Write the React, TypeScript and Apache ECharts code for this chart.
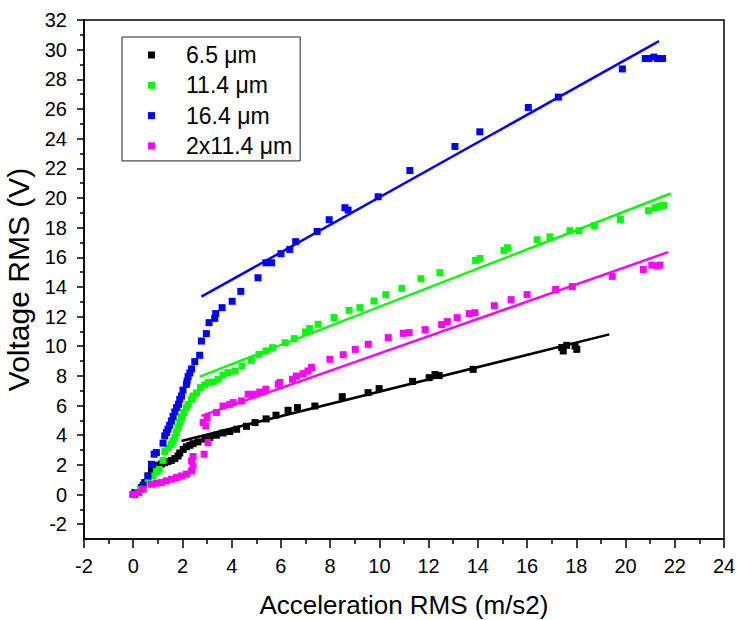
import React, { useEffect, useRef } from "react";
import * as echarts from "echarts";

const seriesNames = ["6.5 μm", "11.4 μm", "16.4 μm", "2x11.4 μm"];
const seriesColors = ["#000000", "#00ff00", "#0000ff", "#ff00ff"];

const black65: number[][] = [
  [0, 0], [0.06, 0.02], [0.2, 0.13], [0.33, 0.47], [0.47, 0.81], [0.6, 1.25], [0.74, 1.6], [0.87, 1.82],
  [1.01, 1.98], [1.15, 2.06], [1.28, 2.15], [1.41, 2.22], [1.55, 2.3], [1.69, 2.42], [1.82, 2.6], [1.89, 2.8],
  [2.03, 3.04], [2.16, 3.22], [2.3, 3.32], [2.43, 3.43], [2.63, 3.55], [2.91, 3.73], [3.11, 3.84], [3.38, 4.0],
  [3.65, 4.15], [3.92, 4.25], [4.2, 4.4], [4.6, 4.6], [4.95, 4.85], [5.4, 5.1], [5.8, 5.35], [6.29, 5.68],
  [6.67, 5.86], [7.38, 5.97], [8.49, 6.6], [9.54, 6.87], [9.99, 7.14], [11.35, 7.63], [12.02, 7.88],
  [12.26, 8.09], [12.43, 8.02], [13.81, 8.44], [17.41, 9.91], [17.47, 9.68], [17.61, 10.06], [17.95, 10.01],
  [18.02, 9.79],
];

const green114: number[][] = [
  [0, 0], [0.3, 0.35], [0.6, 0.81], [0.8, 1.25], [0.94, 1.55], [1.05, 1.7], [1.21, 2.3], [1.28, 2.9],
  [1.42, 3.15], [1.55, 3.39], [1.62, 3.61], [1.69, 3.84], [1.76, 4.18], [1.82, 4.51], [1.89, 4.85],
  [1.96, 5.19], [2.05, 5.53], [2.16, 5.86], [2.23, 6.08], [2.37, 6.42], [2.43, 6.64], [2.57, 6.85],
  [2.73, 7.21], [2.91, 7.39], [3.04, 7.55], [3.24, 7.59], [3.45, 7.77], [3.65, 8.06], [3.85, 8.22],
  [4.13, 8.33], [4.42, 8.67], [4.8, 9.05], [5.11, 9.45], [5.39, 9.68], [5.66, 9.9], [6.17, 10.24],
  [6.54, 10.51], [7.0, 10.96], [7.17, 11.19], [7.51, 11.48], [8.16, 11.93], [8.77, 12.42], [9.21, 12.6],
  [9.78, 13.05], [10.26, 13.48], [10.91, 13.9], [11.69, 14.55], [12.46, 14.96], [13.91, 15.79],
  [14.09, 15.92], [15.06, 16.46], [15.2, 16.64], [16.41, 17.18], [16.93, 17.38], [17.74, 17.79],
  [18.11, 17.79], [18.73, 18.13], [19.79, 18.55], [20.93, 19.14], [21.2, 19.34], [21.4, 19.45], [21.54, 19.5],
];

const blue164: number[][] = [
  [0, 0], [0.06, 0.13], [0.4, 0.63], [0.6, 1.25], [0.74, 2.04], [0.85, 2.72], [0.94, 2.83], [1.21, 3.46],
  [1.28, 3.95], [1.35, 4.18], [1.41, 4.4], [1.48, 4.67], [1.55, 4.96], [1.62, 5.26], [1.69, 5.57],
  [1.76, 5.86], [1.84, 6.08], [1.89, 6.42], [1.96, 6.64], [2.02, 7.04], [2.16, 7.43], [2.19, 7.65],
  [2.23, 7.95], [2.3, 8.2], [2.37, 8.47], [2.5, 8.96], [2.7, 9.39], [2.77, 10.35], [2.97, 10.85],
  [3.08, 11.59], [3.31, 11.88], [3.35, 12.2], [3.61, 12.6], [4.02, 13.03], [4.37, 13.7], [5.07, 14.62],
  [5.39, 15.63], [5.62, 15.63], [6.0, 16.24], [6.36, 16.53], [6.6, 17.05], [7.47, 17.74], [7.96, 18.53],
  [8.6, 19.34], [8.73, 19.18], [9.95, 20.08], [11.24, 21.85], [13.07, 23.47], [14.08, 24.46], [16.05, 26.1],
  [17.27, 26.8], [19.87, 28.7], [20.8, 29.4], [20.95, 29.4], [21.15, 29.5], [21.3, 29.4], [21.5, 29.4],
];

const magenta2x114: number[][] = [
  [0, 0], [0.2, 0.13], [0.4, 0.36], [0.74, 0.69], [0.94, 0.76], [1.15, 0.81], [1.35, 0.92], [1.55, 1.03],
  [1.76, 1.15], [1.96, 1.25], [2.16, 1.37], [2.37, 1.59], [2.43, 1.93], [2.37, 2.26], [2.43, 2.56],
  [2.88, 2.72], [3.04, 3.5], [2.84, 4.85], [2.95, 4.62], [3.0, 5.19], [3.38, 5.53], [3.65, 5.97],
  [3.92, 6.08], [4.06, 6.2], [4.4, 6.31], [4.67, 6.76], [4.87, 6.76], [5.14, 6.91], [5.39, 7.1],
  [5.89, 7.43], [5.96, 7.55], [6.47, 7.77], [6.63, 7.99], [6.9, 8.15], [7.1, 8.33], [7.24, 8.56],
  [7.99, 9.12], [8.53, 9.43], [9.02, 9.79], [9.55, 10.13], [10.36, 10.58], [10.97, 10.87], [11.21, 10.92],
  [11.86, 11.12], [12.53, 11.46], [12.76, 11.66], [13.16, 11.93], [13.65, 12.2], [13.88, 12.26],
  [14.67, 12.73], [15.35, 13.14], [16.0, 13.48], [17.16, 13.83], [17.84, 14.02], [19.46, 14.71],
  [20.72, 15.18], [21.07, 15.47], [21.27, 15.41], [21.4, 15.47],
];

// Fitted straight lines (end points)
const fitBlack: number[][] = [[1.96, 3.61], [19.34, 10.8]];
const fitGreen: number[][] = [[2.7, 7.95], [21.84, 20.3]];
const fitBlue: number[][] = [[2.77, 13.34], [21.36, 30.57]];
const fitMagenta: number[][] = [[2.77, 5.3], [21.74, 16.35]];

const yMajorTicks: number[] = [-2, 0, 2, 4, 6, 8, 10, 12, 14, 16, 18, 20, 22, 24, 26, 28, 30, 32];
const yMinorTicks: number[] = [-1, 1, 3, 5, 7, 9, 11, 13, 15, 17, 19, 21, 23, 25, 27, 29, 31];

const FONT = "'Liberation Sans', Arial, sans-serif";

export default function App() {
  const ref = useRef<HTMLDivElement>(null);

  useEffect(() => {
    if (!ref.current) return;
    const chart = echarts.init(ref.current, undefined, { renderer: "svg" });
    const scatterData = [black65, green114, blue164, magenta2x114];
    const fits = [fitBlack, fitGreen, fitBlue, fitMagenta];

    const series: any[] = [];
    scatterData.forEach((d, i) => {
      series.push({
        name: seriesNames[i],
        type: "scatter",
        data: d,
        symbol: "rect",
        symbolSize: 7,
        itemStyle: { color: seriesColors[i], opacity: 1 },
        emphasis: { disabled: true },
        xAxisIndex: 0,
        yAxisIndex: 0,
        z: 2,
      });
    });
    fits.forEach((d, i) => {
      series.push({
        name: "fit " + seriesNames[i],
        type: "line",
        data: d,
        showSymbol: false,
        symbol: "none",
        lineStyle: { color: seriesColors[i], width: 2.5 },
        itemStyle: { color: seriesColors[i] },
        xAxisIndex: 0,
        yAxisIndex: 0,
        z: 3,
      });
    });

    const tickStyle = { color: "#000", width: 1.5 };

    chart.setOption({
      animation: false,
      textStyle: { fontFamily: FONT },
      grid: {
        left: 84,
        right: 14,
        top: 20,
        bottom: 81,
        containLabel: false,
        outerBoundsMode: "none",
        show: true,
        borderColor: "#000",
        borderWidth: 1.5,
        backgroundColor: "transparent",
      },
      legend: {
        data: seriesNames,
        orient: "vertical",
        left: 122,
        top: 37,
        icon: "rect",
        itemWidth: 7,
        itemHeight: 7,
        itemGap: 6.3,
        padding: [6, 8, 3, 26],
        borderColor: "#222",
        borderWidth: 1,
        itemStyle: { opacity: 1 },
        textStyle: {
          fontSize: 23,
          color: "#000",
          lineHeight: 24,
          fontFamily: FONT,
          padding: [0, 0, 0, 26],
        },
      },
      xAxis: [
        {
          type: "value",
          min: -2,
          max: 24,
          interval: 2,
          position: "bottom",
          name: "Acceleration RMS (m/s2)",
          nameLocation: "middle",
          nameGap: 53,
          nameTextStyle: { fontSize: 26, lineHeight: 26, color: "#000", fontFamily: FONT },
          axisLine: { show: true, onZero: false, lineStyle: tickStyle },
          axisTick: { show: true, inside: false, length: 9, lineStyle: tickStyle },
          minorTick: { show: true, splitNumber: 2, length: 5, lineStyle: tickStyle },
          splitLine: { show: false },
          axisLabel: { fontSize: 20, color: "#000", margin: 17, fontFamily: FONT },
        },
      ],
      yAxis: [
        {
          type: "value",
          min: -3,
          max: 32,
          position: "left",
          name: "Voltage RMS (V)",
          nameLocation: "middle",
          nameGap: 39,
          nameTextStyle: { fontSize: 30, lineHeight: 30, color: "#000", fontFamily: FONT },
          axisLine: { show: true, onZero: false, lineStyle: tickStyle },
          axisTick: { show: true, length: 7, lineStyle: tickStyle, customValues: yMajorTicks },
          splitLine: { show: false },
          axisLabel: {
            fontSize: 20,
            color: "#000",
            margin: 17,
            fontFamily: FONT,
            customValues: yMajorTicks,
          },
        },
        {
          type: "value",
          min: -3,
          max: 32,
          position: "left",
          offset: 0,
          axisLine: { show: false, onZero: false },
          axisTick: { show: true, length: 4, lineStyle: tickStyle, customValues: yMinorTicks },
          axisLabel: { show: false },
          splitLine: { show: false },
        },
      ],
      series,
    });

    return () => {
      chart.dispose();
    };
  }, []);

  return (
    <div
      ref={ref}
      style={{ position: "fixed", left: 0, top: 0, width: 738, height: 620, background: "#fff" }}
    />
  );
}
